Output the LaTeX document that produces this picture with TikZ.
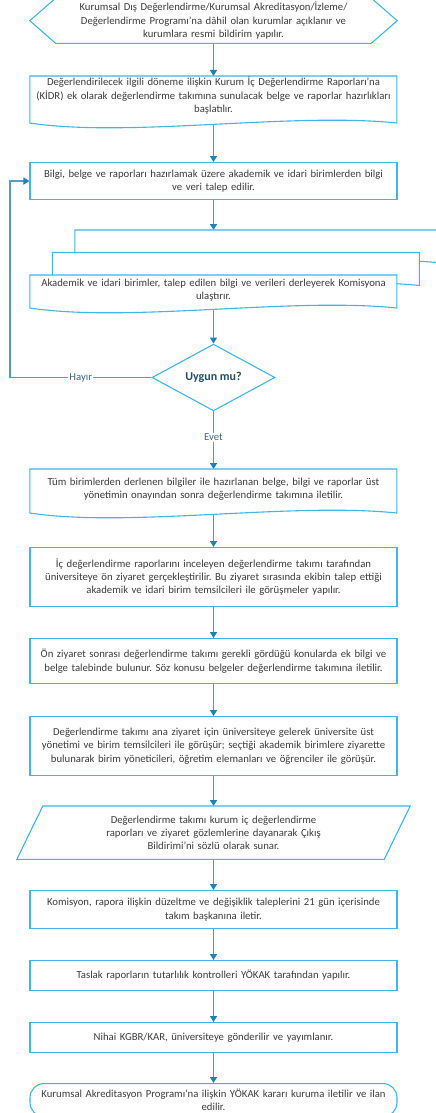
\documentclass[tikz,border=0pt]{standalone}
\usepackage{fontspec}
\setmainfont{Carlito}
\frenchspacing
\usetikzlibrary{arrows.meta,shapes.geometric}

\pgfdeclarelayer{links}
\pgfdeclarelayer{outlines}
\pgfsetlayers{links,outlines,main}

\definecolor{boxblue}{RGB}{62,182,232}
\definecolor{linkblue}{RGB}{78,160,198}
\definecolor{tipblue}{RGB}{28,132,180}
\definecolor{txtgray}{RGB}{60,60,60}
\definecolor{qblue}{RGB}{31,78,110}

\tikzset{
  plain/.style={minimum width=367pt, text width=367pt, align=center, inner sep=0pt, anchor=north},
  box/.style={plain, draw=boxblue, line width=1.1pt, fill=white},
  outline/.style={draw=boxblue, line width=1.1pt, fill=white},
  link/.style={draw=linkblue, line width=1.5pt, -{Triangle[width=7pt,length=6pt,color=tipblue]}},
  lbl/.style={fill=white, text=qblue!85, inner sep=1pt}
}

\begin{document}
\begin{tikzpicture}[x=1pt, y=-1pt, font=\fontsize{10.7}{13.3}\selectfont, text=txtgray]
				\useasboundingbox (0,0) rectangle (436,1113);
				
				% Steps of the flow
				\node[plain, minimum height=45pt] (start) at (213.5,-2)
				{Kurumsal Dış Değerlendirme/Kurumsal Akreditasyon/İzleme/\\ Değerlendirme Programı’na dâhil olan kurumlar açıklanır ve\\ kurumlara resmi bildirim yapılır.};
				\node[plain, minimum height=39pt] (prep) at (213.5,76)
				{Değerlendirilecek ilgili döneme ilişkin Kurum İç Değerlendirme Raporları’na\\ (KİDR) ek olarak değerlendirme takımına sunulacak belge ve raporlar hazırlıkları\\ başlatılır.};
				\node[box, minimum height=37pt] (request) at (213.5,162)
				{Bilgi, belge ve raporları hazırlamak üzere akademik ve idari birimlerden bilgi\\ ve veri talep edilir.};
				\node[plain, minimum height=30pt] (collect) at (213.5,275)
				{Akademik ve idari birimler, talep edilen bilgi ve verileri derleyerek Komisyona\\ ulaştırır.};
				\coordinate (stack) at ([yshift=45pt]collect.north);
				
				% Decision
				\node[diamond, draw=boxblue, line width=1.1pt, fill=white, minimum width=123pt, minimum height=65pt,
				inner sep=0pt, text=qblue, font=\fontsize{12}{14}\selectfont\bfseries] (check) at (213.5,377.5) {Uygun mu?};
				\coordinate (loop) at (10,377.5);
				
				\node[plain, minimum height=40pt] (send) at (213.5,469)
				{Tüm birimlerden derlenen bilgiler ile hazırlanan belge, bilgi ve raporlar üst\\ yönetimin onayından sonra değerlendirme takımına iletilir.};
				\node[box, minimum height=59pt] (previsit) at (213.5,547)
				{İç değerlendirme raporlarını inceleyen değerlendirme takımı tarafından\\ üniversiteye ön ziyaret gerçekleştirilir. Bu ziyaret sırasında ekibin talep ettiği\\ akademik ve idari birim temsilcileri ile görüşmeler yapılır.};
				\node[box, minimum height=45pt] (extra) at (213.5,638)
				{Ön ziyaret sonrası değerlendirme takımı gerekli gördüğü konularda ek bilgi ve\\ belge talebinde bulunur. Söz konusu belgeler değerlendirme takımına iletilir.};
				\node[box, minimum height=59pt] (mainvisit) at (213.5,716)
				{Değerlendirme takımı ana ziyaret için üniversiteye gelerek üniversite üst\\ yönetimi ve birim temsilcileri ile görüşür; seçtiği akademik birimlere ziyarette\\ bulunarak birim yöneticileri, öğretim elemanları ve öğrenciler ile görüşür.};
				\node[plain, minimum height=53pt] (exit) at (213.5,806)
				{Değerlendirme takımı kurum iç değerlendirme\\ raporları ve ziyaret gözlemlerine dayanarak Çıkış\\ Bildirimi’ni sözlü olarak sunar.};
				\node[box, minimum height=38pt] (fix) at (213.5,890)
				{Komisyon, rapora ilişkin düzeltme ve değişiklik taleplerini 21 gün içerisinde\\ takım başkanına iletir.};
				\node[box, minimum height=30pt] (consist) at (213.5,960)
				{Taslak raporların tutarlılık kontrolleri YÖKAK tarafından yapılır.};
				\node[box, minimum height=30pt] (final) at (213.5,1022)
				{Nihai KGBR/KAR, üniversiteye gönderilir ve yayımlanır.};
				\node[box, rounded corners=14pt, minimum height=33pt] (finish) at (213.5,1083)
				{Kurumsal Akreditasyon Programı’na ilişkin YÖKAK kararı kuruma iletilir ve ilan\\ edilir.};
				
				% Outlines drawn behind the texts
				\begin{pgfonlayer}{outlines}
				\draw[outline] (start.west) -- ([xshift=26pt]start.north west) -- ([xshift=-26pt]start.north east)
				-- (start.east) -- ([xshift=-26pt]start.south east) -- ([xshift=26pt]start.south west) -- cycle;
				\draw[outline] (prep.north west) -- ++(367,0) -- ++(0,47)
				.. controls +(-107,-11) and +(100,15) .. ++(-367,0) -- cycle;
				% stack of three sheets, back one first
				\foreach \s in {45,22.5,0}
				\draw[outline] ([shift={(\s pt,\s pt)}]collect.north west) -- ++(367,0) -- ++(0,33)
				.. controls +(-107,-11) and +(100,15) .. ++(-367,0) -- cycle;
				\draw[outline] (send.north west) -- ++(367,0) -- ++(0,44)
				.. controls +(-107,-11) and +(100,15) .. ++(-367,0) -- cycle;
				\draw[outline] ([xshift=13pt]exit.north west) -- ([xshift=13pt]exit.north east)
				-- ([xshift=-13pt]exit.south east) -- ([xshift=-13pt]exit.south west) -- cycle;
				\end{pgfonlayer}
				
				% Connectors
				\begin{pgfonlayer}{links}
				\draw[link] (start) -- (prep);
				\draw[link] (prep) -- (request);
				\draw[link] (request) -- (stack);
				\draw[link] (collect) -- (check);
				\draw[link] (check.west) -- node[lbl]{Hayır} (loop) |- (request.west);
				\draw[link] (check) -- node[lbl, pos=0.45]{Evet} (send);
				\draw[link] (send) -- (previsit);
				\draw[link] (previsit) -- (extra);
				\draw[link] (extra) -- (mainvisit);
				\draw[link] (mainvisit) -- (exit);
				\draw[link] (exit) -- (fix);
				\draw[link] (fix) -- (consist);
				\draw[link] (consist) -- (final);
				\draw[link] (final) -- (finish);
				\end{pgfonlayer}
				
			\end{tikzpicture}
\end{document}
